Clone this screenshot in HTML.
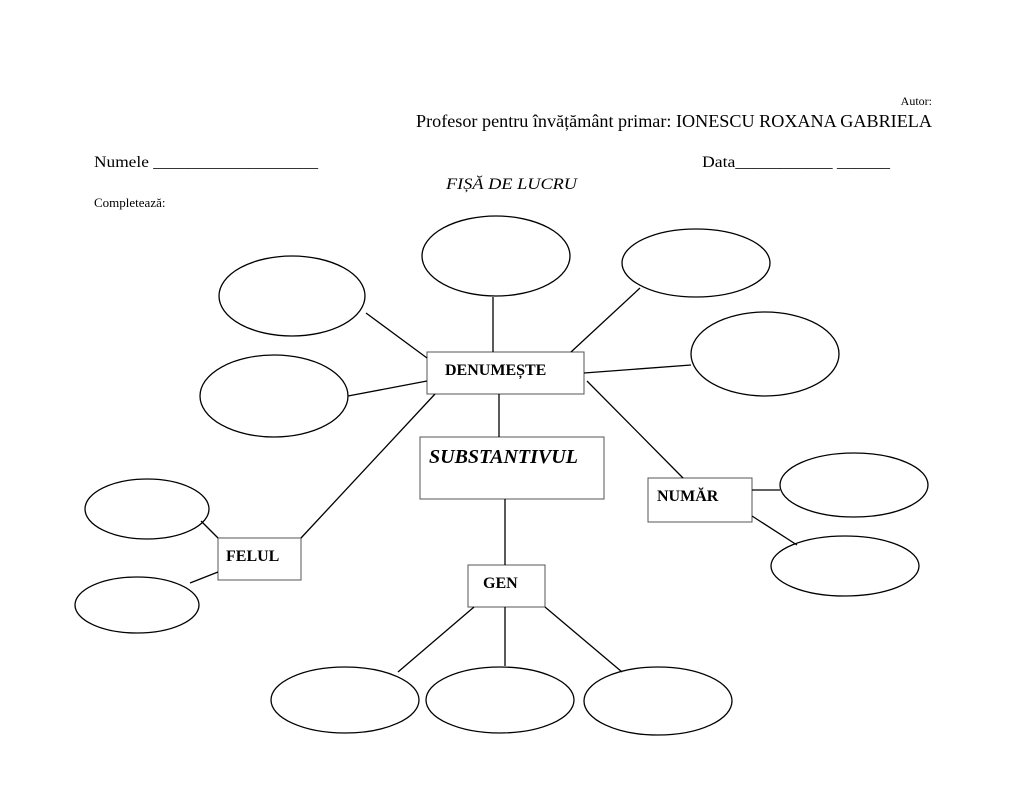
<!DOCTYPE html>
<html><head><meta charset="utf-8"><style>
html,body{margin:0;padding:0;background:#fff;}
body{width:1024px;height:791px;overflow:hidden;}
svg{display:block}
text{font-family:"Liberation Serif",serif;fill:#000}
</style></head><body>
<svg width="1024" height="791" viewBox="0 0 1024 791">
<g fill="none" stroke="#000" stroke-width="1.3">
<ellipse cx="292" cy="296" rx="73" ry="40"/>
<ellipse cx="496" cy="256" rx="74" ry="40"/>
<ellipse cx="696" cy="263" rx="74" ry="34"/>
<ellipse cx="765" cy="354" rx="74" ry="42"/>
<ellipse cx="274" cy="396" rx="74" ry="41"/>
<ellipse cx="147" cy="509" rx="62" ry="30"/>
<ellipse cx="137" cy="605" rx="62" ry="28"/>
<ellipse cx="854" cy="485" rx="74" ry="32"/>
<ellipse cx="845" cy="566" rx="74" ry="30"/>
<ellipse cx="345" cy="700" rx="74" ry="33"/>
<ellipse cx="500" cy="700" rx="74" ry="33"/>
<ellipse cx="658" cy="701" rx="74" ry="34"/>
<g stroke="#555" stroke-width="1">
<rect x="427" y="352" width="157" height="42"/>
<rect x="420" y="437" width="184" height="62"/>
<rect x="648" y="478" width="104" height="44"/>
<rect x="218" y="538" width="83" height="42"/>
<rect x="468" y="565" width="77" height="42"/>
</g>
<line x1="366" y1="313" x2="427" y2="358"/>
<line x1="348" y1="396" x2="427" y2="381"/>
<line x1="493" y1="297" x2="493" y2="352"/>
<line x1="640" y1="288" x2="571" y2="352"/>
<line x1="691" y1="365" x2="584" y2="373"/>
<line x1="499" y1="394" x2="499" y2="437"/>
<line x1="435" y1="394" x2="301" y2="538"/>
<line x1="587" y1="381" x2="683" y2="478"/>
<line x1="505" y1="499" x2="505" y2="565"/>
<line x1="752" y1="490" x2="780" y2="490"/>
<line x1="752" y1="516" x2="797" y2="545"/>
<line x1="201" y1="521" x2="218" y2="538"/>
<line x1="190" y1="583" x2="218" y2="572"/>
<line x1="474" y1="607" x2="398" y2="672"/>
<line x1="505" y1="607" x2="505" y2="666"/>
<line x1="545" y1="607" x2="622" y2="672"/>
</g>
<text x="932" y="105" font-size="12" text-anchor="end">Autor:</text>
<text x="416" y="127" font-size="18" textLength="516" lengthAdjust="spacingAndGlyphs">Profesor pentru învățământ primar: IONESCU ROXANA GABRIELA</text>
<text x="94" y="167" font-size="16" textLength="224" lengthAdjust="spacingAndGlyphs">Numele ___________________</text>
<text x="702" y="167" font-size="16" textLength="188" lengthAdjust="spacingAndGlyphs">Data___________ ______</text>
<text x="446" y="189" font-size="16" font-style="italic" textLength="131" lengthAdjust="spacingAndGlyphs">FIȘĂ DE LUCRU</text>
<text x="94" y="207" font-size="13">Completează:</text>
<text x="445" y="375" font-size="16" font-weight="bold">DENUMEȘTE</text>
<text x="429" y="463" font-size="20" font-weight="bold" font-style="italic">SUBSTANTIVUL</text>
<text x="657" y="501" font-size="16" font-weight="bold">NUMĂR</text>
<text x="226" y="561" font-size="16" font-weight="bold">FELUL</text>
<text x="483" y="588" font-size="16" font-weight="bold">GEN</text>
</svg>
</body></html>
